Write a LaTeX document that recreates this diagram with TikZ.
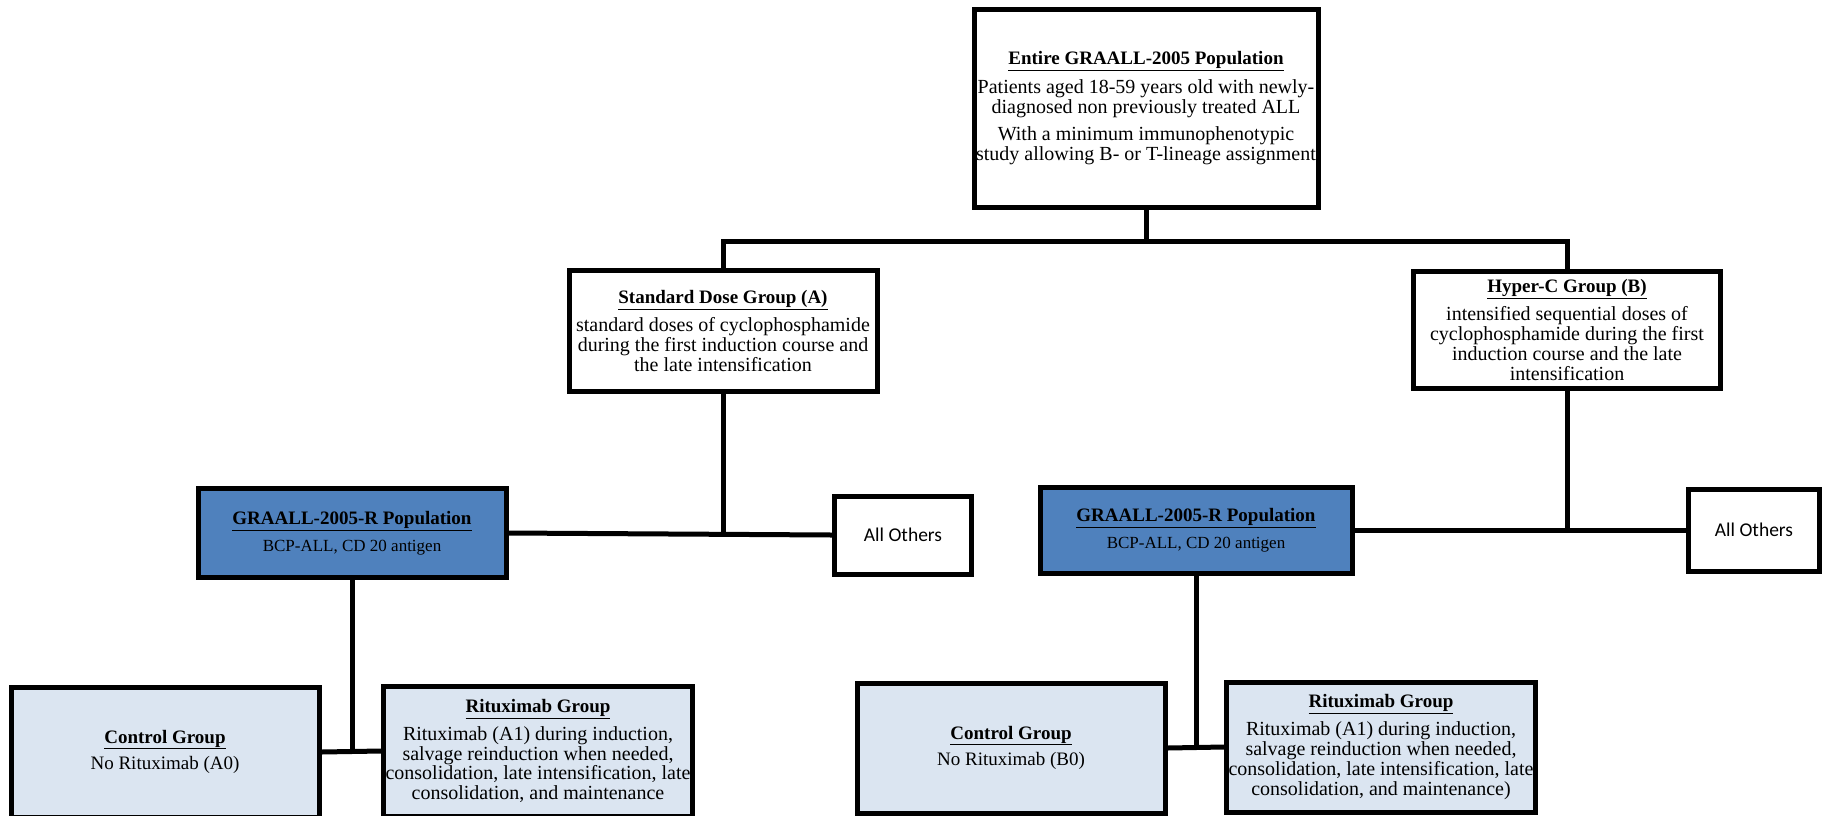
\documentclass[tikz,border=0pt]{standalone}
\usepackage{fontspec}
\setmainfont{Liberation Serif}
\newfontfamily\calfont{Carlito}
\definecolor{popblue}{RGB}{79,129,189}
\definecolor{grpblue}{RGB}{219,229,241}
\newcommand{\ttl}[1]{{\fontsize{19}{19.8}\selectfont\underline{\textbf{#1}}}}
\newcommand{\smalltext}{\fontsize{17}{19.8}\selectfont}
\newcommand{\midtext}{\fontsize{19}{19.8}\selectfont}
\begin{document}
\begin{tikzpicture}[x=1pt,y=-1pt,
    box/.style={draw,line width=5pt,fill=white,align=center,inner sep=2pt,
      font=\fontsize{20}{19.8}\selectfont},
    popbox/.style={box,fill=popblue,minimum width=308pt},
    grpbox/.style={box,fill=grpblue,minimum width=308pt,minimum height=130pt},
    otherbox/.style={box,font=\calfont\fontsize{19.5}{19.8}\selectfont},
    link/.style={line width=5pt}]
\useasboundingbox (0,0) rectangle (1826,815);
% whole population
\node[box,minimum width=344pt,minimum height=198pt] (pop) at (1146,108)
  {\ttl{Entire GRAALL-2005 Population}\\[8pt]
   Patients aged 18-59 years old with newly-\\
   diagnosed non previously treated ALL\\[7pt]
   With a minimum immunophenotypic\\
   study allowing B- or T-lineage assignment};
% randomised dose groups
\node[box,minimum width=308pt,minimum height=121pt] (stdA) at (723,331)
  {\ttl{Standard Dose Group (A)}\\[7pt]
   standard doses of cyclophosphamide\\
   during the first induction course and\\
   the late intensification};
\node[box,minimum width=307pt,minimum height=117pt] (hypB) at (1567,330)
  {\ttl{Hyper-C Group (B)}\\[7pt]
   intensified sequential doses of\\
   cyclophosphamide during the first\\
   induction course and the late\\
   intensification};
% R populations
\node[popbox,minimum height=89pt] (popA) at (352,533)
  {\ttl{GRAALL-2005-R Population}\\[7pt] \smalltext BCP-ALL, CD 20 antigen};
\node[otherbox,minimum width=137pt,minimum height=78pt] (othA) at (903,535) {All Others};
\node[popbox,minimum width=312pt,minimum height=86pt] (popB) at (1196,530)
  {\ttl{GRAALL-2005-R Population}\\[7pt] \smalltext BCP-ALL, CD 20 antigen};
\node[otherbox,minimum width=131pt,minimum height=82pt] (othB) at (1754,530) {All Others};
% rituximab arms
\node[grpbox] (ctrlA) at (165,752)
  {\ttl{Control Group}\\[7pt] \midtext No Rituximab (A0)};
\node[grpbox] (ritA) at (538,751)
  {\ttl{Rituximab Group}\\[7pt]
   Rituximab (A1) during induction,\\
   salvage reinduction when needed,\\
   consolidation, late intensification, late\\
   consolidation, and maintenance};
\node[grpbox] (ctrlB) at (1011,748)
  {\ttl{Control Group}\\[7pt] \midtext No Rituximab (B0)};
\node[grpbox] (ritB) at (1381,747)
  {\ttl{Rituximab Group}\\[7pt]
   Rituximab (A1) during induction,\\
   salvage reinduction when needed,\\
   consolidation, late intensification, late\\
   consolidation, and maintenance)};
% connectors
\draw[link] (pop.south) -- ++(0,32) -| (stdA.north);
\draw[link] (pop.south) -- ++(0,32) -| (hypB.north);
\draw[link] (popA.east) -- (othA.west);
\draw[link] (stdA.south) -- (stdA.south |- popA.east);
\draw[link] (popB.east) -- (othB.west);
\draw[link] (hypB.south) -- (hypB.south |- popB.east);
\draw[link] (ctrlA.east) -- (ritA.west);
\draw[link] (popA.south) -- (popA.south |- ctrlA.east);
\draw[link] (ctrlB.east) -- (ritB.west);
\draw[link] (popB.south) -- (popB.south |- ctrlB.east);
\end{tikzpicture}
\end{document}
